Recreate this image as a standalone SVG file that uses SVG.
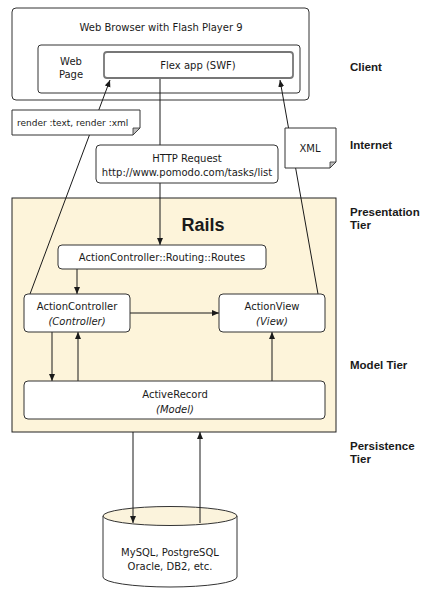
<svg xmlns="http://www.w3.org/2000/svg" width="430" height="600" viewBox="0 0 430 600">
<defs>
<style>
text{font-family:"DejaVu Sans","Liberation Sans",Arial,sans-serif;font-size:10px;fill:#1a1a1a}
.c{text-anchor:middle}
.i{font-style:italic}
.lbl{font-family:"Liberation Sans",Arial,sans-serif;font-weight:bold;font-size:11.5px}
.box{fill:#fff;stroke:#333;stroke-width:1}
.ln{stroke:#1a1a1a;stroke-width:1;fill:none}
.fold{fill:#bdbdbd;stroke:#333;stroke-width:0.8}
</style>
<marker id="ah" markerWidth="8" markerHeight="8" refX="7" refY="3" orient="auto" markerUnits="userSpaceOnUse">
<path d="M0,0 L7,3 L0,6 Z" fill="#1a1a1a"/>
</marker>
</defs>
<rect width="430" height="600" fill="#fff"/>

<g id="rails">
<rect x="12" y="198" width="324" height="234" fill="#fdf4da" stroke="#222" stroke-width="1"/>
<text x="203" y="231" class="c" style="font-family:'Liberation Sans',Arial,sans-serif;font-size:18px;font-weight:bold">Rails</text>
</g>

<g id="browser">
<rect x="12" y="8" width="297" height="92" rx="4" class="box"/>
<text x="161" y="31" class="c">Web Browser with Flash Player 9</text>
</g>
<g id="webpage">
<rect x="38" y="45" width="262" height="48" rx="3" class="box"/>
<text x="71" y="65" class="c">Web</text>
<text x="71" y="78" class="c">Page</text>
</g>
<g id="flex">
<rect x="104" y="52" width="189" height="26" rx="3" fill="#fff" stroke="#777" stroke-width="1.8"/>
<text x="198" y="69" class="c">Flex app (SWF)</text>
</g>

<g id="connectors">
<line class="ln" x1="160" y1="79" x2="160" y2="145"/>
<line class="ln" x1="160" y1="183" x2="160" y2="245" marker-end="url(#ah)"/>
<line class="ln" x1="30" y1="294" x2="110" y2="80" marker-end="url(#ah)"/>
<line class="ln" x1="318" y1="294" x2="280" y2="80" marker-end="url(#ah)"/>
<line class="ln" x1="77" y1="269" x2="77" y2="294" marker-end="url(#ah)"/>
<line class="ln" x1="130" y1="313" x2="219" y2="313" marker-end="url(#ah)"/>
<line class="ln" x1="52" y1="332" x2="52" y2="381" marker-end="url(#ah)"/>
<line class="ln" x1="78" y1="381" x2="78" y2="332" marker-end="url(#ah)"/>
<line class="ln" x1="272" y1="381" x2="272" y2="332" marker-end="url(#ah)"/>
</g>

<g id="render-note">
<path d="M12,110 H140 V128 L133,135 H12 Z" class="box"/>
<path d="M140,128 L133,135 L133,128 Z" class="fold"/>
<text x="17" y="126" style="font-size:9px">render :text, render :xml</text>
</g>

<g id="xml-note">
<path d="M285,128 H336 V162 L330,168 H285 Z" class="box"/>
<path d="M336,162 L330,168 L330,162 Z" class="fold"/>
<text x="310" y="152" class="c">XML</text>
</g>

<g id="http">
<rect x="96" y="145" width="182" height="38" rx="4" class="box"/>
<text x="187" y="162" class="c">HTTP Request</text>
<text x="187" y="176" class="c">http://www.pomodo.com/tasks/list</text>
</g>

<g id="routes">
<rect x="58" y="245" width="208" height="24" rx="4" class="box"/>
<text x="162" y="261" class="c">ActionController::Routing::Routes</text>
</g>

<g id="controller">
<rect x="24" y="294" width="106" height="38" rx="4" class="box"/>
<text x="77" y="310" class="c">ActionController</text>
<text x="77" y="325" class="c i">(Controller)</text>
</g>

<g id="view">
<rect x="219" y="294" width="106" height="38" rx="4" class="box"/>
<text x="272" y="310" class="c">ActionView</text>
<text x="272" y="325" class="c i">(View)</text>
</g>

<g id="activerecord">
<rect x="24" y="381" width="301" height="38" rx="4" class="box"/>
<text x="175" y="398" class="c">ActiveRecord</text>
<text x="175" y="413" class="c i">(Model)</text>
</g>

<g id="database">
<path d="M103,516 V577 A67,10 0 0 0 237,577 V516" fill="#fff" stroke="#333" stroke-width="1"/>
<ellipse cx="170" cy="516" rx="67" ry="9.5" fill="#fbf3dc" stroke="#333" stroke-width="1"/>
<text x="170" y="556" class="c">MySQL, PostgreSQL</text>
<text x="170" y="570" class="c">Oracle, DB2, etc.</text>
</g>

<g id="db-connectors">
<line class="ln" x1="133" y1="432" x2="133" y2="523" marker-end="url(#ah)"/>
<line class="ln" x1="200" y1="523" x2="200" y2="432" marker-end="url(#ah)"/>
</g>

<g id="tier-labels">
<text x="350" y="71" class="lbl">Client</text>
<text x="350" y="149" class="lbl">Internet</text>
<text x="350" y="216" class="lbl">Presentation</text>
<text x="350" y="229" class="lbl">Tier</text>
<text x="350" y="369" class="lbl">Model Tier</text>
<text x="350" y="450" class="lbl">Persistence</text>
<text x="350" y="463" class="lbl">Tier</text>
</g>
</svg>
